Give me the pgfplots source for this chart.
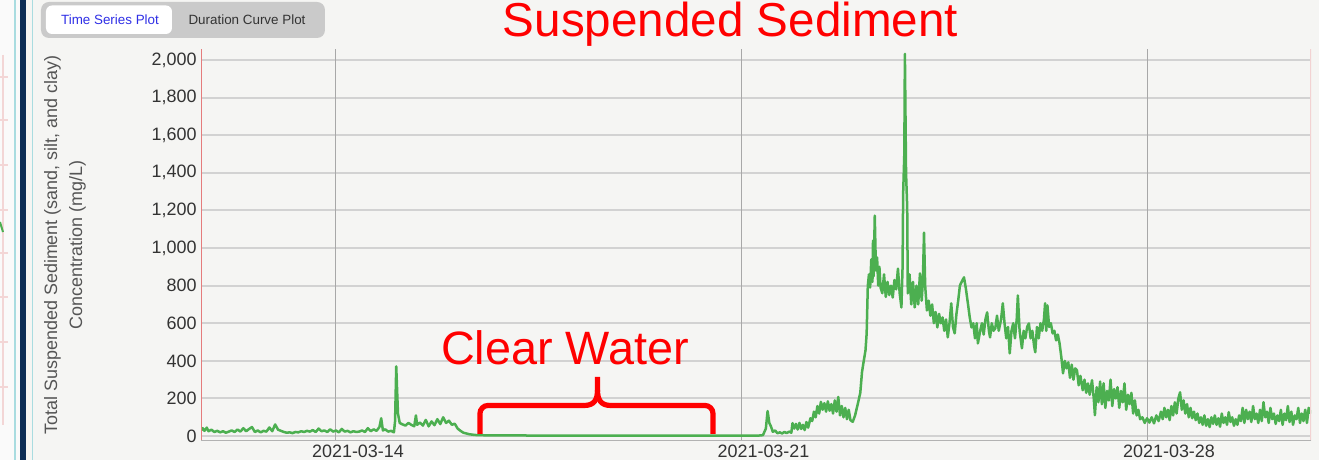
\documentclass[border=0pt]{standalone}
\usepackage{pgfplots}
\pgfplotsset{compat=1.18}
\usepackage{fontspec}
\setmainfont{Liberation Sans}
\definecolor{bg}{HTML}{F5F5F3}
\definecolor{gridH}{HTML}{D2D2D2}
\definecolor{gridV}{HTML}{A8A8A8}
\definecolor{lineG}{HTML}{4CAF50}
\definecolor{axRed}{HTML}{E57C7C}
\definecolor{axPink}{HTML}{F2D2D2}
\definecolor{tabOuter}{HTML}{CACACA}
\definecolor{tabBlue}{HTML}{2F2FE6}
\definecolor{tabText}{HTML}{333333}
\definecolor{navy}{HTML}{0C2D55}
\definecolor{cyanL}{HTML}{A9DCE0}
\definecolor{tickT}{HTML}{333333}
\definecolor{labT}{HTML}{555555}
\definecolor{pinkL}{HTML}{F3D6D6}

\pgfplotstableread{
d v
11.67 30
11.70 42
11.73 28
11.77 45
11.80 26
11.85 34
11.90 22
11.95 28
12.00 20
12.05 26
12.10 18
12.15 24
12.20 30
12.25 22
12.30 35
12.35 24
12.40 42
12.45 26
12.50 38
12.55 48
12.60 22
12.65 30
12.70 20
12.75 28
12.80 24
12.85 46
12.90 26
12.95 62
13.00 34
13.05 28
13.10 22
13.15 18
13.20 20
13.25 16
13.30 22
13.35 20
13.40 26
13.45 22
13.50 28
13.55 24
13.60 32
13.65 22
13.70 40
13.75 26
13.80 30
13.85 22
13.90 36
13.95 24
14.00 30
14.05 20
14.10 38
14.15 24
14.20 28
14.25 20
14.30 26
14.35 22
14.40 24
14.45 30
14.50 22
14.55 42
14.60 26
14.65 36
14.70 28
14.75 48
14.78 95
14.81 30
14.85 36
14.90 24
14.95 28
15.00 20
15.02 80
15.04 371
15.07 120
15.10 70
15.15 62
15.20 56
15.25 70
15.30 60
15.35 52
15.38 110
15.40 60
15.45 72
15.50 56
15.55 86
15.60 52
15.65 78
15.70 58
15.75 90
15.80 64
15.85 100
15.90 70
15.95 82
16.00 60
16.05 66
16.10 40
16.15 28
16.20 18
16.30 10
16.40 6
16.60 4
17.50 3
19.00 3
20.50 3
21.30 3
21.37 5
21.42 40
21.45 133
21.48 70
21.51 50
21.54 23
21.58 30
21.62 15
21.66 20
21.70 14
21.74 22
21.78 16
21.82 24
21.86 18
21.88 69
21.91 40
21.94 65
21.97 35
22.00 70
22.03 38
22.06 60
22.09 32
22.12 75
22.15 45
22.19 95
22.22 80
22.25 130
22.28 100
22.31 160
22.34 120
22.37 182
22.40 140
22.43 175
22.46 130
22.49 185
22.52 135
22.55 170
22.58 120
22.61 190
22.64 130
22.67 208
22.70 110
22.73 160
22.76 100
22.79 150
22.82 90
22.85 140
22.88 85
22.92 76
22.96 110
23.01 175
23.05 230
23.08 341
23.11 400
23.14 456
23.16 546
23.18 800
23.20 860
23.22 790
23.24 940
23.26 820
23.27 1040
23.28 850
23.30 1172
23.32 880
23.34 950
23.36 800
23.38 900
23.40 790
23.43 760
23.46 860
23.49 740
23.52 820
23.55 750
23.58 800
23.61 737
23.64 830
23.67 780
23.70 890
23.73 760
23.76 684
23.78 900
23.79 1289
23.81 1500
23.82 2032
23.84 1400
23.86 1215
23.87 759
23.90 860
23.93 700
23.96 820
23.99 684
24.02 800
24.05 700
24.08 865
24.11 720
24.13 820
24.15 1082
24.17 800
24.20 668
24.23 720
24.26 640
24.29 700
24.32 600
24.35 660
24.38 578
24.41 650
24.44 600
24.47 631
24.50 560
24.53 620
24.56 525
24.59 600
24.62 706
24.65 580
24.68 546
24.71 650
24.74 720
24.77 801
24.80 820
24.84 844
24.87 790
24.91 700
24.94 630
24.97 578
25.00 600
25.03 520
25.06 600
25.08 493
25.12 560
25.15 600
25.18 540
25.21 620
25.24 658
25.27 560
25.29 525
25.32 600
25.35 560
25.38 573
25.41 640
25.44 560
25.48 620
25.51 706
25.54 600
25.57 520
25.60 580
25.63 440
25.66 560
25.69 600
25.72 520
25.75 620
25.77 748
25.80 560
25.84 467
25.87 560
25.90 520
25.93 580
25.96 599
25.99 520
26.02 560
26.05 480
26.07 446
26.10 580
26.13 520
26.16 600
26.19 560
26.22 620
26.24 706
26.26 560
26.28 695
26.31 580
26.34 600
26.37 546
26.40 560
26.43 509
26.46 540
26.49 493
26.52 420
26.55 334
26.58 400
26.61 360
26.64 392
26.67 310
26.70 380
26.73 300
26.76 360
26.79 350
26.82 270
26.85 320
26.89 244
26.92 300
26.95 230
26.98 280
27.01 220
27.05 297
27.08 200
27.10 111
27.13 260
27.16 180
27.19 290
27.22 170
27.25 281
27.28 150
27.31 240
27.34 190
27.37 300
27.40 160
27.43 250
27.46 200
27.49 260
27.52 150
27.55 240
27.58 180
27.61 280
27.64 140
27.67 220
27.70 170
27.73 230
27.76 120
27.79 190
27.82 110
27.85 140
27.88 90
27.92 100
27.96 70
28.00 95
28.04 72
28.08 100
28.12 68
28.16 110
28.20 80
28.24 130
28.27 90
28.30 150
28.33 100
28.36 140
28.39 85
28.42 160
28.45 110
28.48 180
28.51 120
28.54 200
28.57 233
28.60 140
28.63 190
28.66 120
28.69 170
28.72 100
28.75 150
28.78 95
28.81 130
28.84 85
28.87 120
28.90 70
28.93 100
28.96 60
28.99 110
29.02 55
29.05 90
29.08 48
29.11 100
29.14 65
29.17 110
29.20 60
29.23 95
29.26 50
29.29 120
29.32 70
29.35 100
29.38 60
29.41 127
29.44 75
29.47 100
29.50 55
29.53 90
29.56 60
29.59 110
29.62 80
29.65 150
29.68 70
29.71 140
29.74 90
29.77 130
29.80 75
29.83 160
29.86 90
29.89 120
29.92 70
29.95 140
29.98 80
30.01 180
30.04 100
30.07 130
30.10 70
30.13 150
30.16 90
30.19 120
30.22 65
30.25 110
30.28 80
30.31 140
30.34 60
30.37 120
30.40 85
30.43 160
30.46 75
30.49 130
30.52 60
30.55 110
30.58 90
30.61 150
30.64 70
30.67 120
30.70 80
30.73 140
30.76 70
30.79 150
30.83 120
}\sediment

\begin{document}
\begin{tikzpicture}
\useasboundingbox (0,0) rectangle (659.5bp,230bp);
\begin{scope}[x=0.5bp,y=-0.5bp,shift={(0bp,230bp)}]
  \fill[bg] (0,0) rectangle (1319,460);
  \fill[white!55!bg] (0,0) rectangle (20.5,460);
  \draw[pinkL, line width=0.6bp] (3,55) -- (3,425);
  \foreach \yy in {77,120,165,210,253,297,342,387}{\draw[pinkL, line width=0.6bp] (0,\yy) -- (8,\yy);}
  \draw[lineG, line width=1bp] (0,222) -- (3,232);
  \draw[cyanL, line width=0.6bp] (15,0) -- (15,460);
  \fill[navy] (20.5,0) rectangle (26.5,460);
  \draw[cyanL, line width=0.6bp] (32.5,0) -- (32.5,460);
  \fill[tabOuter, rounded corners=4bp] (41,2) rectangle (325,38);
  \fill[white, rounded corners=3bp] (46,5.5) rectangle (172,34);
  \node[font=\fontsize{6.7bp}{8bp}\selectfont, text=tabBlue] at (110,20) {Time Series Plot};
  \node[font=\fontsize{6.7bp}{8bp}\selectfont, text=tabText] at (247,20) {Duration Curve Plot};
\end{scope}

\begin{axis}[
  at={(100.5bp,9.5bp)}, anchor=south west,
  scale only axis, width=555bp, height=196bp,
  xmin=11.67, xmax=30.83, ymin=-26, ymax=2058,
  axis background/.style={fill=bg},
  axis line style={draw=none},
  tick style={draw=none},
  xtick={14,21,28},
  xticklabels={2021-03-14,2021-03-21,2021-03-28},
  ytick={0,200,...,2000},
  yticklabels={0,200,400,600,800,{1,000},{1,200},{1,400},{1,600},{1,800},{2,000}},
  ymajorgrids,
  major grid style={gridH, line width=1bp},
  xticklabel style={font=\fontsize{9}{10}\selectfont, text=tickT, xshift=11bp, inner sep=2bp},
  yticklabel style={font=\fontsize{9}{10}\selectfont, text=tickT, inner sep=2bp},
  every axis y label/.style={at={(axis description cs:-0.1225,0.5)}, rotate=90, anchor=center,
     align=center, font=\fontsize{9}{12.5}\selectfont, text=labT},
  ylabel={Total Suspended Sediment (sand, silt, and clay)\\Concentration (mg/L)},
  clip=true,
]
\draw[gridV, line width=0.5bp] (axis cs:14,-26) -- (axis cs:14,2058);
\draw[gridV, line width=0.5bp] (axis cs:21,-26) -- (axis cs:21,2058);
\draw[gridV, line width=0.5bp] (axis cs:28,-26) -- (axis cs:28,2058);
\addplot[lineG, line width=1.25bp, line join=round, no marks] table[x=d, y=v] {\sediment};
\draw[axRed, line width=1bp] (rel axis cs:0,0) -- (rel axis cs:0,1);
\draw[axPink, line width=0.8bp] (rel axis cs:1,0) -- (rel axis cs:1,1);
\draw[gray!60, line width=0.8bp] (rel axis cs:0,0) -- (rel axis cs:1,0);
\end{axis}

\begin{scope}[x=0.5bp,y=-0.5bp,shift={(0bp,230bp)}]
  \node[anchor=base, text=red, font=\fontsize{23.8bp}{28bp}\selectfont, inner sep=0pt] at (730.5,37) {Suspended Sediment};
  \node[anchor=base, text=red, font=\fontsize{23.4bp}{28bp}\selectfont, inner sep=0pt] at (565,365) {Clear Water};
  \draw[red, line width=2.6bp, rounded corners=4bp] (480,434) -- (480,405.5) -- (584,405.5);
  \draw[red, line width=2.6bp] (584,405.5) .. controls (594,405.5) and (597.5,400) .. (597.5,390) -- (597.5,377);
  \draw[red, line width=2.6bp] (611,405.5) .. controls (601,405.5) and (597.5,400) .. (597.5,390);
  \draw[red, line width=2.6bp, rounded corners=4bp] (611,405.5) -- (713,405.5) -- (713,434);
\end{scope}
\end{tikzpicture}
\end{document}
